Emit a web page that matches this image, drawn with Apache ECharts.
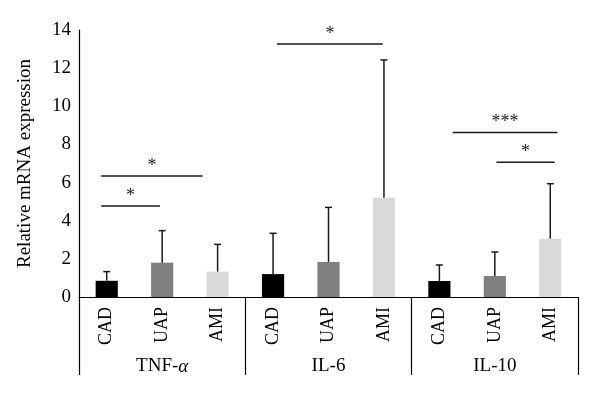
<!DOCTYPE html>
<html>
<head>
<meta charset="utf-8">
<script src="https://cdn.jsdelivr.net/npm/echarts@6/dist/echarts.min.js"></script>
<style>
  html, body { margin: 0; padding: 0; background: #fff; }
</style>
</head>
<body>
<div id="main" style="width: 600px; height: 397px;"></div>
<script>
// groups and subgroups
var groups = ['TNF-α', 'IL-6', 'IL-10']
var subgroups = ['CAD', 'UAP', 'AMI']
var barColors = ['#000000', '#808080', '#d9d9d9']

// mean relative expression, one array per cytokine
var tnfMean = [0.85, 1.8, 1.33]
var il6Mean = [1.2, 1.84, 5.2]
var il10Mean = [0.84, 1.1, 3.06]

// upper error (SD)
var tnfSD = [0.48, 1.68, 1.43]
var il6SD = [2.14, 2.86, 7.23]
var il10SD = [0.84, 1.26, 2.88]

// y axis ticks
var yMin = 0
var yMax = 14
var yStep = 2

// significance brackets (x in bar index units, y in axis units)
var sigFrom = [-0.1, -0.1, 3.07, 6.24, 7.03]
var sigTo = [1.73, 0.96, 4.98, 8.13, 8.08]
var sigLevel = [6.35, 4.77, 13.27, 8.63, 7.06]
var sigMark = ['*', '*', '*', '***', '*']

var serif = "'Liberation Serif', 'Times New Roman', serif"

var means = [tnfMean, il6Mean, il10Mean]
var sds = [tnfSD, il6SD, il10SD]
var cats = []
var barData = []
var errData = []
for (var g = 0; g < groups.length; g++) {
  for (var s = 0; s < subgroups.length; s++) {
    var idx = cats.length
    cats.push(subgroups[s])
    barData.push({ value: means[g][s], itemStyle: { color: barColors[s] } })
    errData.push([idx, means[g][s], means[g][s] + sds[g][s]])
  }
}
var sigData = []
for (var k = 0; k < sigMark.length; k++) {
  sigData.push([sigFrom[k], sigLevel[k], sigTo[k], sigMark[k]])
}

var chart = echarts.init(document.getElementById('main'))
chart.setOption({
  animation: false,
  textStyle: { fontFamily: serif },
  grid: {
    left: 79,
    right: 22,
    top: 30,
    bottom: 100,
    containLabel: false,
    outerBoundsMode: 'none'
  },
  xAxis: [
    {
      type: 'category',
      data: cats,
      position: 'bottom',
      axisLine: { show: true, onZero: false, lineStyle: { color: '#000', width: 1.2 } },
      axisTick: { show: false },
      axisLabel: {
        rotate: 90,
        interval: 0,
        margin: 10,
        color: '#000',
        fontSize: 18,
        fontFamily: serif
      }
    },
    {
      type: 'category',
      data: groups,
      position: 'bottom',
      axisLine: { show: false, onZero: false },
      axisTick: {
        show: true,
        interval: 0,
        length: 78,
        lineStyle: { color: '#000', width: 1.2 }
      },
      axisLabel: {
        interval: 0,
        margin: 60,
        color: '#000',
        fontSize: 19,
        fontFamily: serif,
        // greek letter in italics like the source figure
        formatter: function (v) {
          return v.replace('α', '{it|α}')
        },
        rich: {
          it: { fontStyle: 'italic', fontSize: 19, fontFamily: serif, color: '#000' }
        }
      }
    },
    {
      type: 'value',
      min: -0.5,
      max: 8.5,
      position: 'top',
      show: false
    }
  ],
  yAxis: {
    type: 'value',
    min: yMin,
    max: yMax,
    interval: yStep,
    name: 'Relative mRNA expression',
    nameLocation: 'middle',
    nameGap: 44,
    nameTextStyle: { color: '#000', fontSize: 19, fontFamily: serif },
    axisLine: { show: true, onZero: false, lineStyle: { color: '#000', width: 1.2 } },
    axisTick: { show: false },
    splitLine: { show: false },
    axisLabel: { color: '#000', fontSize: 19, margin: 8, fontFamily: serif }
  },
  series: [
    {
      type: 'bar',
      xAxisIndex: 0,
      data: barData,
      barWidth: '40%'
    },
    {
      type: 'custom',
      xAxisIndex: 0,
      encode: { x: 0, y: [1, 2] },
      data: errData,
      z: 3,
      renderItem: function (params, api) {
        var p1 = api.coord([api.value(0), api.value(1)])
        var p2 = api.coord([api.value(0), api.value(2)])
        var st = { stroke: '#1a1a1a', lineWidth: 1.5 }
        return {
          type: 'group',
          children: [
            { type: 'line', shape: { x1: p1[0], y1: p1[1], x2: p2[0], y2: p2[1] }, style: st },
            { type: 'line', shape: { x1: p2[0] - 3.5, y1: p2[1], x2: p2[0] + 3.5, y2: p2[1] }, style: st }
          ]
        }
      }
    },
    {
      type: 'custom',
      xAxisIndex: 2,
      encode: { x: [0, 2], y: 1 },
      data: sigData,
      z: 3,
      clip: false,
      renderItem: function (params, api) {
        var a = api.coord([api.value(0), api.value(1)])
        var b = api.coord([api.value(2), api.value(1)])
        var mark = sigData[params.dataIndex][3]
        return {
          type: 'group',
          children: [
            { type: 'line', shape: { x1: a[0], y1: a[1], x2: b[0], y2: b[1] }, style: { stroke: '#1a1a1a', lineWidth: 1.5 } },
            {
              type: 'text',
              x: (a[0] + b[0]) / 2,
              y: a[1] - 1,
              style: {
                text: mark,
                fill: '#222',
                fontSize: 18,
                fontFamily: serif,
                align: 'center',
                verticalAlign: 'bottom'
              }
            }
          ]
        }
      }
    }
  ]
})
</script>
</body>
</html>
